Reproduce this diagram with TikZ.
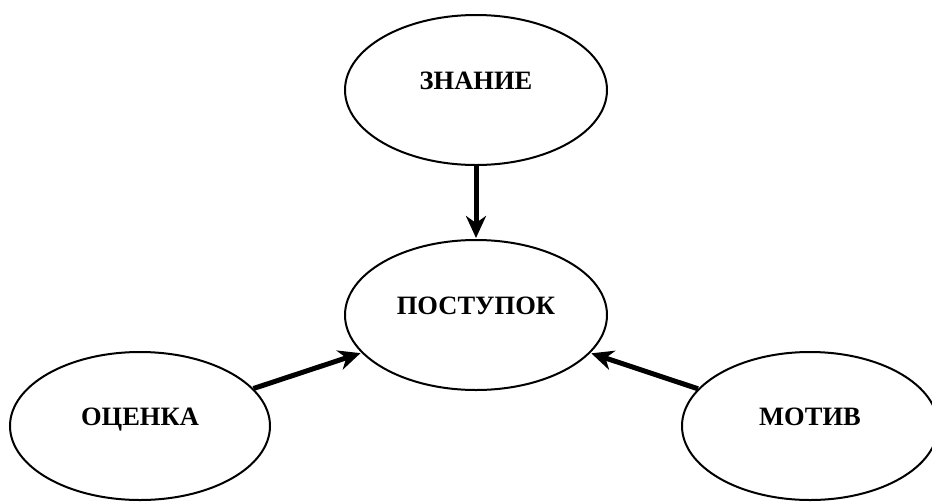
\documentclass[tikz,border=0pt]{standalone}
\usepackage{fontspec}
\setmainfont{Liberation Serif}
\usetikzlibrary{shapes.geometric,arrows.meta}
\begin{document}
\begin{tikzpicture}[x=1pt,y=-1pt,
  oval/.style={ellipse,draw,line width=2pt,inner sep=0pt,
    minimum width=262pt,minimum height=150pt,
    font=\fontsize{26.5}{30}\selectfont\bfseries,
    text height=10pt,text depth=12pt},
  link/.style={line width=5pt,-{Stealth[length=22pt,width=20pt,inset=7pt]},shorten >=1pt}]
\useasboundingbox (0,0) rectangle (932,501);
\node[oval] (zn) at (476,90) {ЗНАНИЕ};
\node[oval] (po) at (476,315) {ПОСТУПОК};
\node[oval,minimum width=260pt,minimum height=148pt] (oc) at (140,426) {ОЦЕНКА};
\node[oval,minimum width=256pt,minimum height=148pt] (mo) at (810,426) {МОТИВ};
\draw[link] (zn) -- (po);
\draw[link] (oc) -- (po);
\draw[link] (mo) -- (po);
\end{tikzpicture}
\end{document}
